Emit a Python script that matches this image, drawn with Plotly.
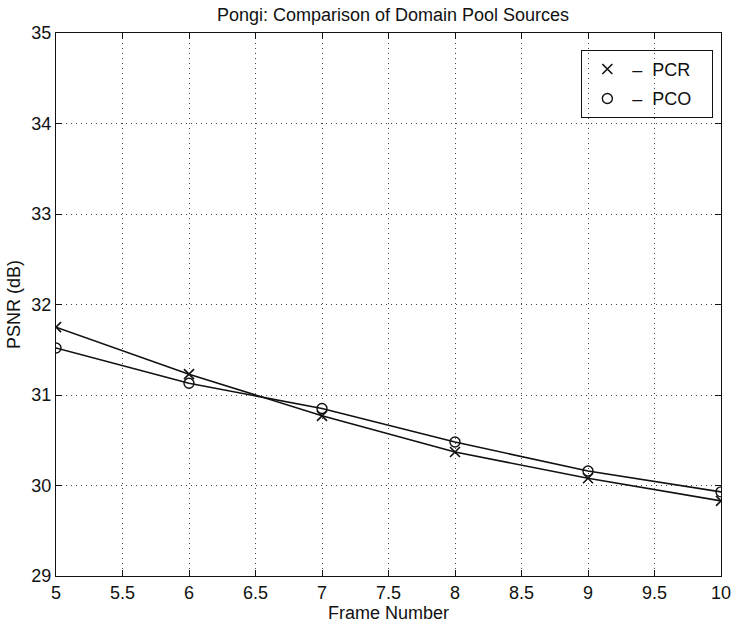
import plotly.graph_objects as go

# PSNR per frame for the two domain pool sources
frames = [5, 6, 7, 8, 9, 10]
pcr_psnr = [31.75, 31.23, 30.77, 30.37, 30.08, 29.83]
pco_psnr = [31.52, 31.13, 30.85, 30.48, 30.16, 29.93]

x_ticks = [5, 5.5, 6, 6.5, 7, 7.5, 8, 8.5, 9, 9.5, 10]
x_tick_text = ["5", "5.5", "6", "6.5", "7", "7.5", "8", "8.5", "9", "9.5", "10"]
y_ticks = [29, 30, 31, 32, 33, 34, 35]

FONT = "Liberation Sans, Arial, Helvetica, sans-serif"
BLACK = "#111111"
NBSP = "\u00a0"

fig = go.Figure()

# data curves (line + markers), hidden from the legend
fig.add_trace(go.Scatter(
    x=frames, y=pcr_psnr, mode="lines+markers", showlegend=False,
    line=dict(color=BLACK, width=1.6),
    marker=dict(symbol="x-thin-open", size=10, color=BLACK,
                line=dict(color=BLACK, width=1.6)),
))
fig.add_trace(go.Scatter(
    x=frames, y=pco_psnr, mode="lines+markers", showlegend=False,
    line=dict(color=BLACK, width=1.6),
    marker=dict(symbol="circle-open", size=10, color=BLACK,
                line=dict(color=BLACK, width=1.4)),
))

# legend entries showing only the marker symbol
fig.add_trace(go.Scatter(
    x=[None], y=[None], mode="markers", name="\u2013" + NBSP * 2 + "PCR" + NBSP * 3,
    legendgroup="pcr",
    marker=dict(symbol="x-thin-open", size=10, color=BLACK,
                line=dict(color=BLACK, width=1.6)),
))
fig.add_trace(go.Scatter(
    x=[None], y=[None], mode="markers", name="\u2013" + NBSP * 2 + "PCO" + NBSP * 3,
    legendgroup="pco",
    marker=dict(symbol="circle-open", size=10, color=BLACK,
                line=dict(color=BLACK, width=1.4)),
))

axis_common = dict(
    showline=True, linecolor=BLACK, linewidth=1.2, mirror="ticks",
    ticks="inside", ticklen=6, tickwidth=1, tickcolor=BLACK,
    showgrid=True, gridcolor="#444444", gridwidth=1, griddash="1px,4px",
    zeroline=False,
    tickfont=dict(family=FONT, size=18, color=BLACK),
)

fig.update_xaxes(
    range=[5, 10], tickvals=x_ticks, ticktext=x_tick_text,
    title=dict(text="Frame Number", font=dict(family=FONT, size=18, color=BLACK),
               standoff=2),
    **axis_common,
)
fig.update_yaxes(
    range=[29, 35], tickvals=y_ticks,
    title=dict(text="PSNR (dB)", font=dict(family=FONT, size=18, color=BLACK),
               standoff=5),
    **axis_common,
)

fig.update_layout(
    width=743, height=629,
    margin=dict(l=56, r=13, t=33, b=51),
    paper_bgcolor="white", plot_bgcolor="white",
    title=dict(text="Pongi: Comparison of Domain Pool Sources",
               font=dict(family=FONT, size=18, color=BLACK),
               x=(56 + 730) / 2 / 743, xanchor="center",
               y=1 - 15 / 629, yanchor="middle", yref="container"),
    legend=dict(
        x=0.79, y=0.969, xanchor="left", yanchor="top",
        bgcolor="rgba(0,0,0,0)", bordercolor=BLACK, borderwidth=1,
        font=dict(family=FONT, size=18, color=BLACK),
        itemwidth=40, tracegroupgap=3,
    ),
    showlegend=True,
)

fig.write_html("out.html")
